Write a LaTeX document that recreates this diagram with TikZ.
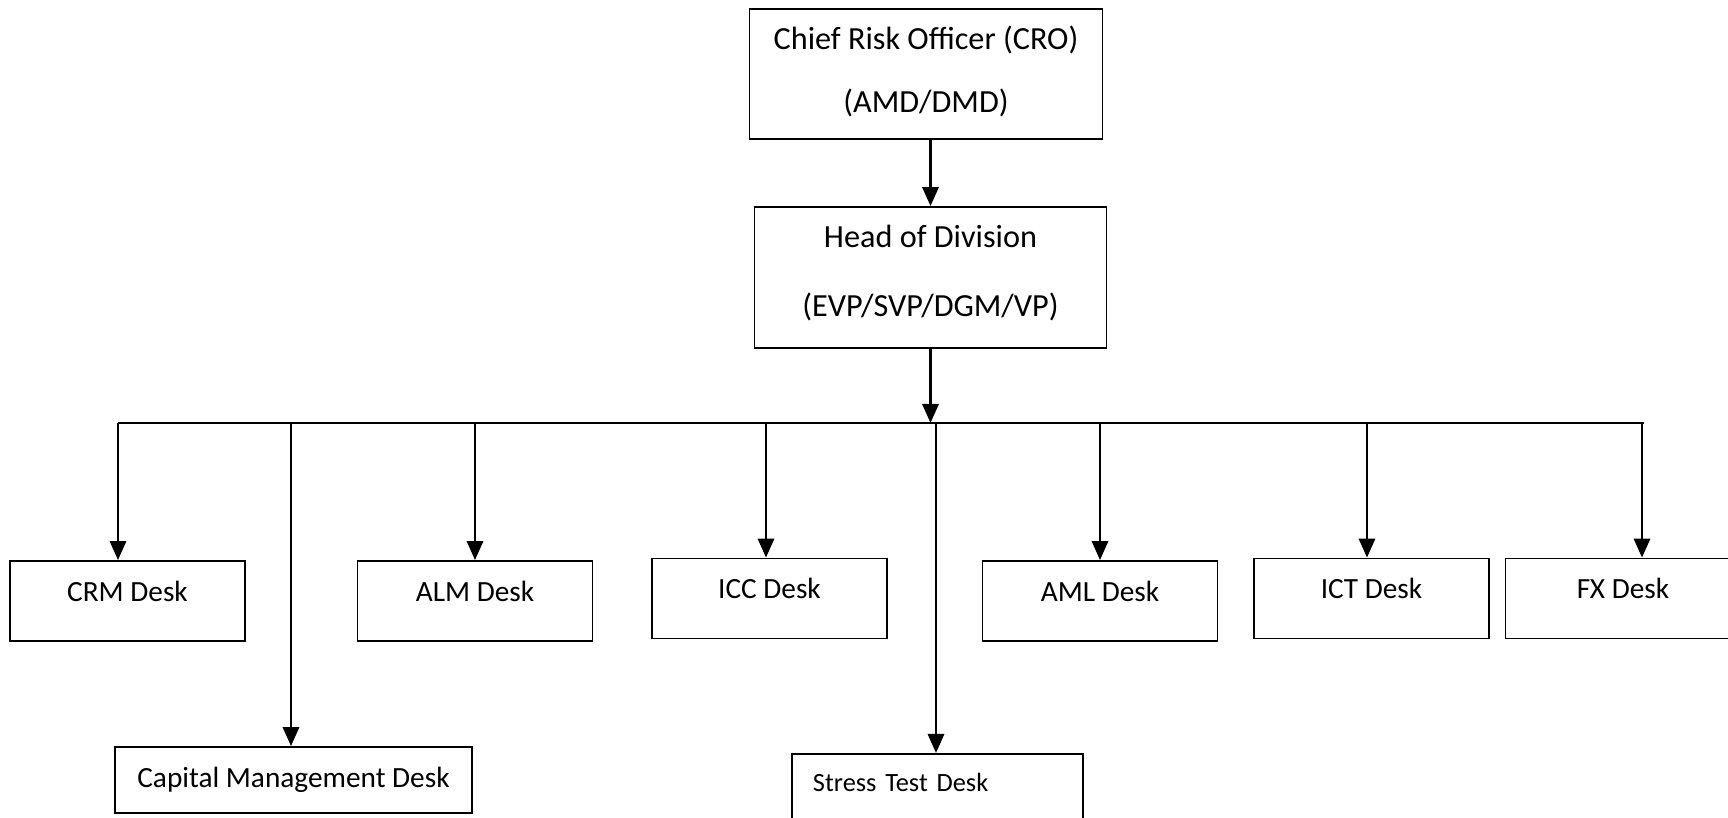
\documentclass[tikz,border=0pt]{standalone}
\usepackage{fontspec}
\setmainfont{Carlito}
\usetikzlibrary{arrows.meta,positioning,calc}
\tikzset{
	box/.style={draw,line width=0.6pt,inner sep=0pt,align=center,font=\fontsize{11}{13}\selectfont},
	desk/.style={box,minimum width=2.82cm,minimum height=0.96cm,text height=8pt,text depth=8pt,font=\fontsize{10}{12}\selectfont},
	link/.style={line width=1pt,-{Triangle[length=6.5pt,width=5.5pt]}},
}
\begin{document}
\begin{tikzpicture}[x=0.012cm,y=-0.012cm]
	\useasboundingbox (0,0) rectangle (1728,817);
	\node (cro) at (926,74) [box,minimum width=4.236cm,minimum height=1.56cm] {Chief Risk Officer (CRO)\\[8.5pt](AMD/DMD)\rule[-3.1pt]{0pt}{0pt}};
	\node (hod) at (930.5,277.5) [box,minimum width=4.224cm,minimum height=1.692cm] {Head of Division\\[10.5pt](EVP/SVP/DGM/VP)\rule[-4.3pt]{0pt}{0pt}};
	\node (crm) at (127.5,601) [desk] {CRM Desk};
	\node (alm) at (475,601) [desk] {ALM Desk};
	\node (icc) at (769.5,598.5) [desk] {ICC Desk};
	\node (aml) at (1100,601) [desk] {AML Desk};
	\node (ict) at (1371.5,598.5) [desk] {ICT Desk};
	\node (fx) at (1623,598.5) [desk] {FX Desk};
	\node (cap) at (293.5,780) [box,minimum width=4.284cm,minimum height=0.792cm,font=\fontsize{10}{12}\selectfont] {Capital Management Desk};
	\node (stress) at (791,753) [box,anchor=north west,align=left,inner xsep=7.2pt,text width=2.988cm,minimum height=1.08cm,text height=7pt,text depth=12pt,font=\fontsize{9}{11}\selectfont] {Stress Test Desk};
	\coordinate (busL) at (118,423);
	\coordinate (busR) at (1644,423);
	\draw[link] (cro.south -| hod.north) -- (hod.north);
	\draw[link] (hod.south) -- (hod.south |- busL);
	\draw[line width=0.8pt] (busL) -- (busR);
	\foreach \desk/\xx in {crm/118,cap/291,alm/475,icc/766,stress/936,aml/1100,ict/1367,fx/1642}{
		\coordinate (b-\desk) at (\xx,423);
		\draw[link] (b-\desk) -- (b-\desk |- \desk.north);
	}
\end{tikzpicture}
\end{document}
